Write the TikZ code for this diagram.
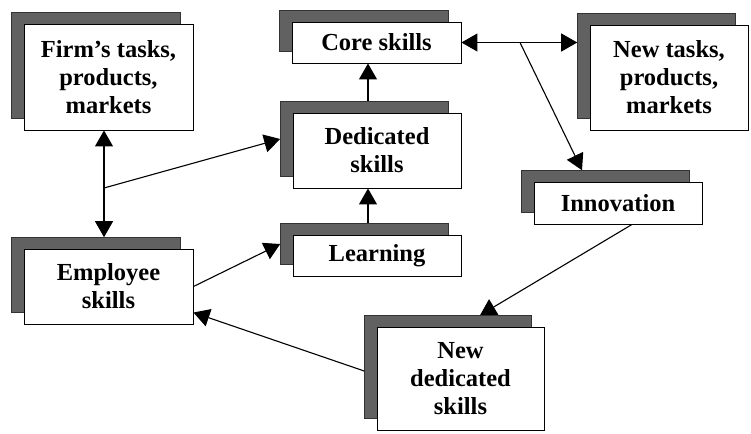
\documentclass[tikz,border=0pt]{standalone}
\usepackage{fontspec}
\setmainfont{Liberation Serif}
\usetikzlibrary{arrows.meta,calc}
\tikzset{
  whitebox/.style={draw=black, fill=white, line width=0.9pt, inner sep=0pt,
    align=center, font=\bfseries\fontsize{24.5}{28}\selectfont},
  shadowbox/.style={fill=black!62, draw=black!80, line width=0.6pt, inner sep=0pt},
  arr/.style={line width=1.1pt, -{Triangle[length=16pt,width=18pt]}},
  darr/.style={line width=1.1pt, {Triangle[length=16pt,width=18pt]}-{Triangle[length=16pt,width=18pt]}}
}
\newcommand{\skillbox}[6]{%
  \node[shadowbox,minimum width=#4,minimum height=#5] (#1-s) at ($(#2,#3)+(-12.5,-11.5)$) {};
  \node[whitebox,minimum width=#4,minimum height=#5] (#1) at (#2,#3) {#6};}
\begin{document}
\begin{tikzpicture}[x=1pt,y=-1pt]
\useasboundingbox[fill=white] (0,0) rectangle (751,433);
\skillbox{firm}{108.5}{77}{169}{106}{Firm’s tasks,\\products,\\markets}
\skillbox{core}{376.5}{42.5}{169}{41}{Core skills}
\skillbox{ded}{377}{150.5}{168}{75}{Dedicated\\skills}
\skillbox{learn}{377}{255.5}{168}{41}{Learning}
\skillbox{nt}{669}{77.5}{158}{105}{New tasks,\\products,\\markets}
\skillbox{innov}{618}{203}{168}{42}{Innovation}
\skillbox{emp}{108.5}{286.5}{169}{75}{Employee\\skills}
\skillbox{nd}{460.5}{378.5}{167}{103}{New\\dedicated\\skills}
\coordinate (vx) at (104,188);
\coordinate (cx) at (368,100);
\coordinate (bx) at (520,44);
\draw[darr] (firm.south -| vx) -- (emp-s.north -| vx);
\draw[arr] (vx) -- (ded-s.west);
\draw[arr] (ded-s.north -| cx) -- (core.south -| cx);
\draw[arr] (learn-s.north -| cx) -- (ded.south -| cx);
\draw[darr] (core.east) -- (core.east -| nt-s.west);
\draw[arr] (core.east -| bx) -- ([xshift=-23.5]innov-s.north);
\draw[arr] ([xshift=14]innov.south) -- ([xshift=32]nd-s.north);
\draw[arr] ([yshift=-4]nd-s.west) -- ([yshift=-26]emp.east);
\draw[arr] (emp.east) -- (learn-s.west);
\end{tikzpicture}
\end{document}
